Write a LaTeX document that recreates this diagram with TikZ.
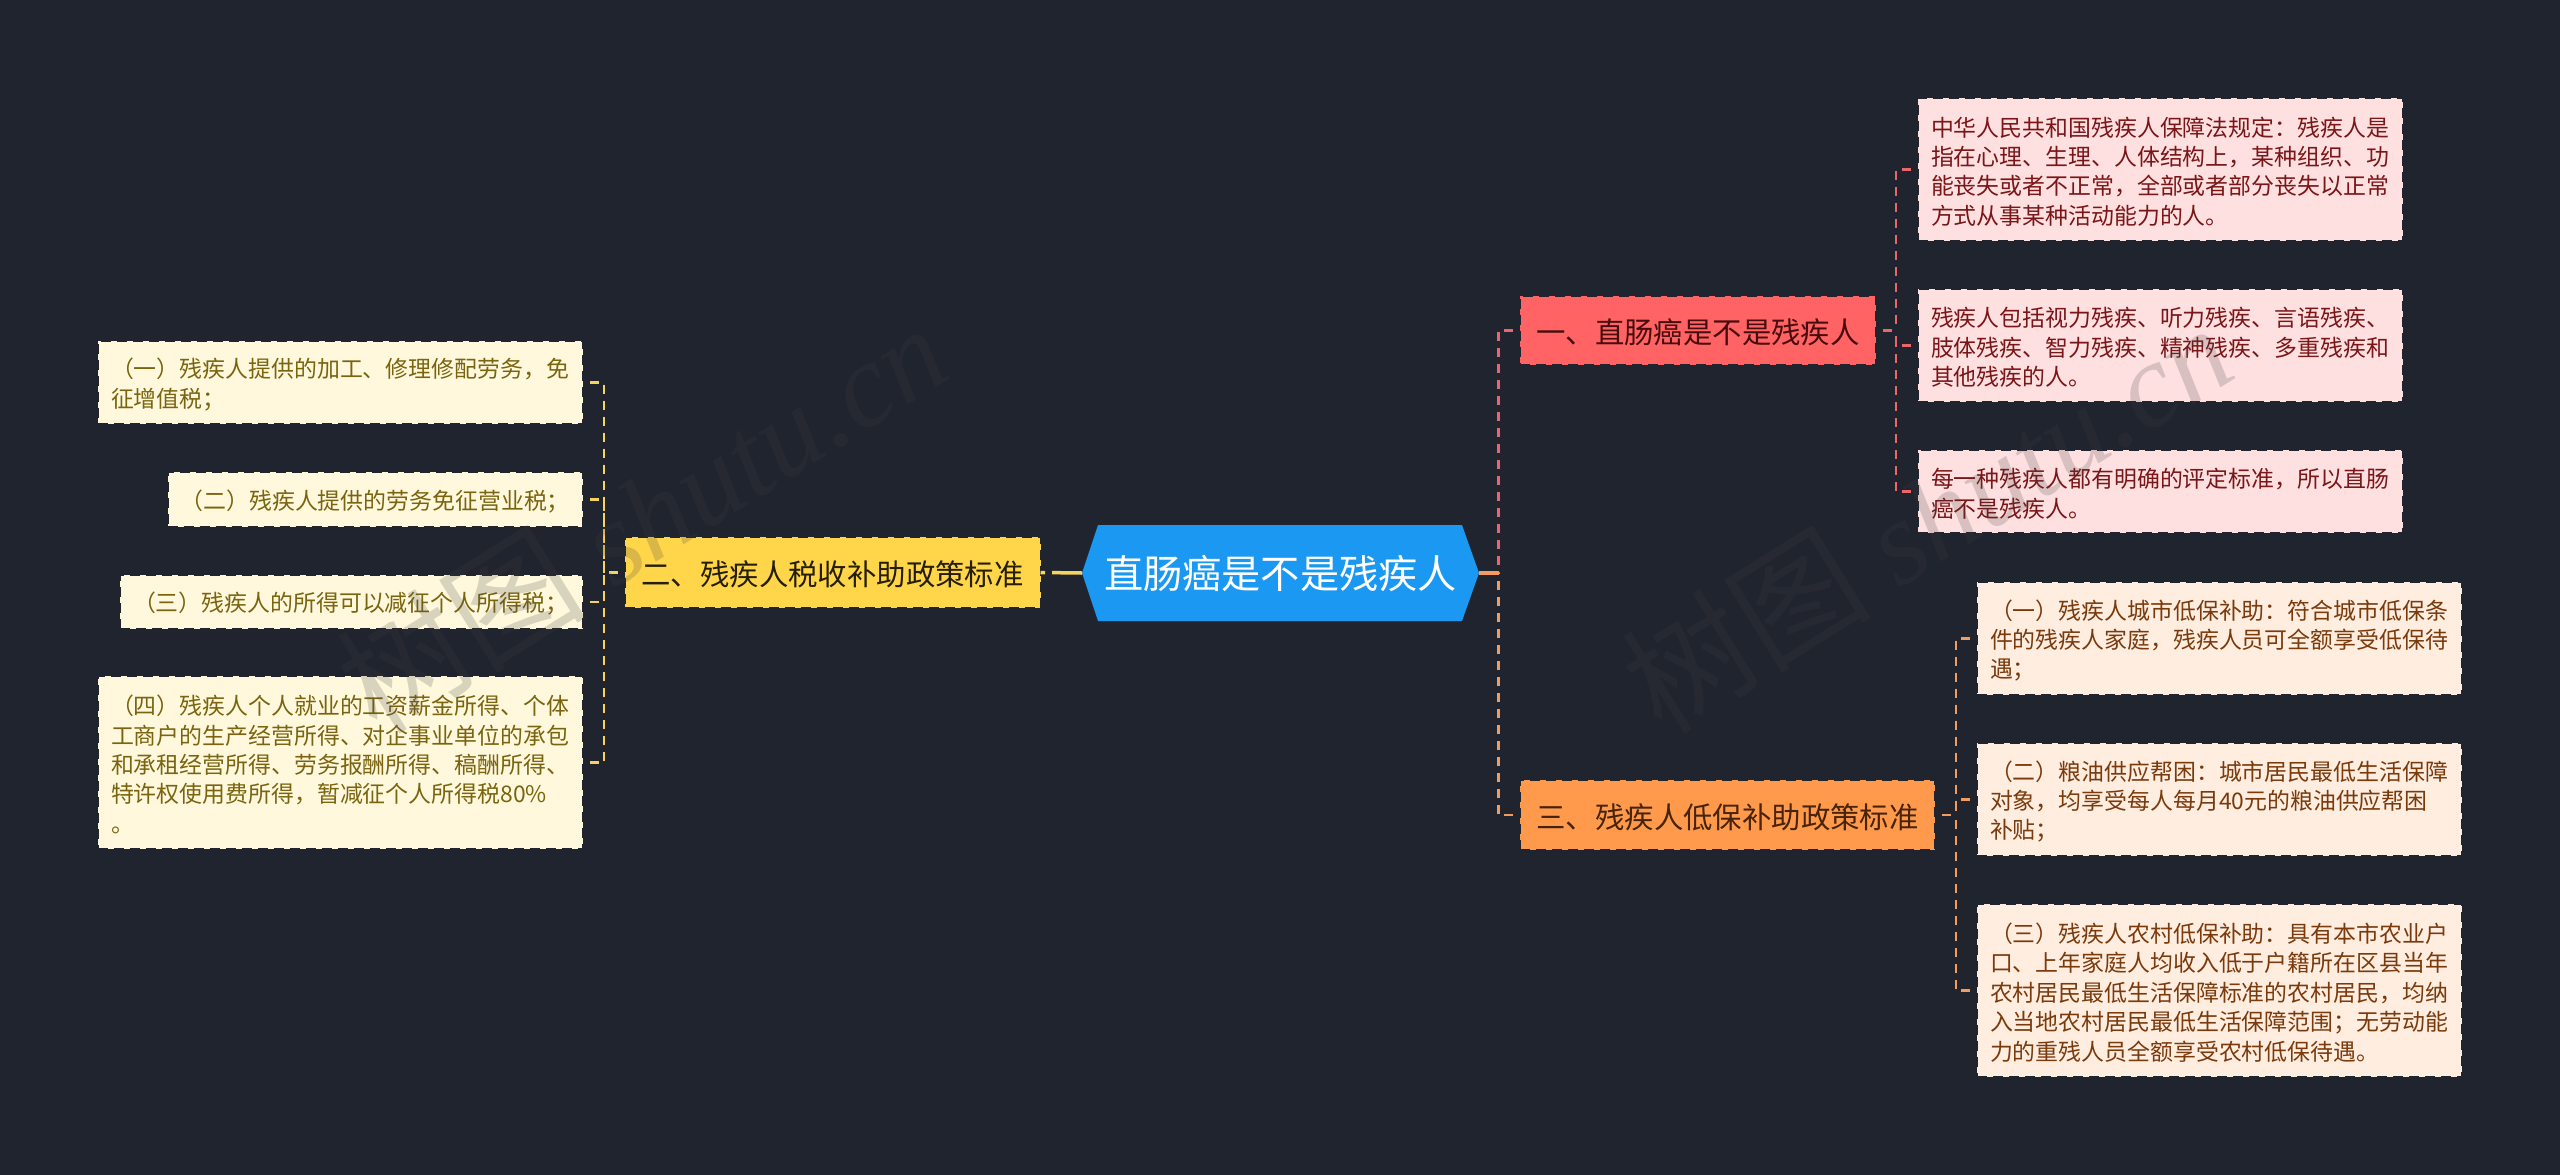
\documentclass[tikz,border=0pt]{standalone}
\usepackage{fontspec}
\usepackage{xcolor}
\setmainfont{Noto Sans CJK SC}
\newfontfamily\markfont{Liberation Serif}

\definecolor{bgdark}{HTML}{20242F}
\definecolor{rootblue}{HTML}{1B98F2}
\definecolor{redmain}{HTML}{FF6363}
\definecolor{redleaf}{HTML}{FFE0E0}
\definecolor{redline}{HTML}{EB666A}
\definecolor{redtext}{HTML}{7A1518}
\definecolor{orgmain}{HTML}{FF9A4D}
\definecolor{orgleaf}{HTML}{FFEDE0}
\definecolor{orgline}{HTML}{F59C5C}
\definecolor{orgtext}{HTML}{7A3A0C}
\definecolor{yelmain}{HTML}{FFD54A}
\definecolor{yelleaf}{HTML}{FFF8DC}
\definecolor{yelline}{HTML}{F5D35E}
\definecolor{yeltext}{HTML}{7A640F}

\tikzset{
	edged/.style={draw=bgdark,line width=2pt,dash pattern=on 10pt off 6pt,outer sep=0pt},
	mainbox/.style={edged,inner xsep=0pt,inner ysep=0pt,font=\fontsize{29.4}{36}\selectfont,execute at begin node={\rule{0pt}{28.5pt}}},
	leafbox/.style={edged,inner xsep=13pt,inner ysep=0pt,align=left,font=\fontsize{22.9}{29.4}\selectfont,execute at begin node={\rule{0pt}{23.5pt}}},
	rootbox/.style={text=white,inner sep=0pt,outer sep=0pt,minimum width=397pt,minimum height=96pt,font=\fontsize{39.2}{46}\selectfont},
	redmainbox/.style={mainbox,fill=redmain,text=black!40!redtext,minimum width=356pt,minimum height=69pt},
	orgmainbox/.style={mainbox,fill=orgmain,text=black!40!orgtext,minimum width=415pt,minimum height=70pt},
	yelmainbox/.style={mainbox,fill=yelmain,text=black!70!yeltext,minimum width=416pt,minimum height=71pt},
	redleafbox/.style={leafbox,fill=redleaf,text=redtext,text width=459pt},
	orgleafbox/.style={leafbox,fill=orgleaf,text=orgtext,text width=459pt},
	yelleafbox/.style={leafbox,fill=yelleaf,text=yeltext},
	link/.style={line width=2.2pt,dash pattern=on 9pt off 7pt,dash phase=9pt},
	rootlink/.style={line width=3.5pt},
	markbox/.style={rotate=32,text=black!75,text opacity=0.2,font=\fontsize{125}{130}\selectfont}
}

\begin{document}
\begin{tikzpicture}[x=1pt,y=-1pt]
	\fill[bgdark] (0,0) rectangle (2560,1175);

	% centre
	\fill[rootblue] (1082,573) -- (1098,525) -- (1462,525) -- (1479,573) -- (1462,621) -- (1098,621) -- cycle;
	\node[rootbox] (root) at (1280.5,573) {直肠癌是不是残疾人};

	% main topics
	\node[redmainbox] (redtopic) at (1698,330.5) {一、直肠癌是不是残疾人};
	\node[orgmainbox] (orgtopic) at (1727.5,815) {三、残疾人低保补助政策标准};
	\node[yelmainbox] (yeltopic) at (832.5,572.5) {二、残疾人税收补助政策标准};

	% right top
	\node[redleafbox,minimum height=143pt] (redone) at (2160.5,169.5) {中华人民共和国残疾人保障法规定：残疾人是\\指在心理、生理、人体结构上，某种组织、功\\能丧失或者不正常，全部或者部分丧失以正常\\方式从事某种活动能力的人。};
	\node[redleafbox,minimum height=113pt] (redtwo) at (2160.5,345.5) {残疾人包括视力残疾、听力残疾、言语残疾、\\肢体残疾、智力残疾、精神残疾、多重残疾和\\其他残疾的人。};
	\node[redleafbox,minimum height=83pt] (redthree) at (2160.5,491.5) {每一种残疾人都有明确的评定标准，所以直肠\\癌不是残疾人。};

	% right bottom
	\node[orgleafbox,minimum height=113pt] (orgone) at (2219.5,638.5) {（一）残疾人城市低保补助：符合城市低保条\\件的残疾人家庭，残疾人员可全额享受低保待\\遇；};
	\node[orgleafbox,minimum height=113pt] (orgtwo) at (2219.5,799.5) {（二）粮油供应帮困：城市居民最低生活保障\\对象，均享受每人每月40元的粮油供应帮困\\补贴；};
	\node[orgleafbox,minimum height=173pt] (orgthree) at (2219.5,990.5) {（三）残疾人农村低保补助：具有本市农业户\\口、上年家庭人均收入低于户籍所在区县当年\\农村居民最低生活保障标准的农村居民，均纳\\入当地农村居民最低生活保障范围；无劳动能\\力的重残人员全额享受农村低保待遇。};

	% left
	\node[yelleafbox,text width=459pt,minimum height=83pt] (yelone) at (340.5,382.5) {（一）残疾人提供的加工、修理修配劳务，免\\征增值税；};
	\node[yelleafbox,text width=389.5pt,minimum height=55pt] (yeltwo) at (375.25,499.5) {（二）残疾人提供的劳务免征营业税；};
	\node[yelleafbox,text width=437pt,minimum height=54pt] (yelthree) at (351.5,602) {（三）残疾人的所得可以减征个人所得税；};
	\node[yelleafbox,text width=459pt,minimum height=173pt] (yelfour) at (340.5,762.5) {（四）残疾人个人就业的工资薪金所得、个体\\工商户的生产经营所得、对企事业单位的承包\\和承租经营所得、劳务报酬所得、稿酬所得、\\特许权使用费所得，暂减征个人所得税80\%\\。};

	% branch points
	\coordinate (rootjoint) at (1498.5,573);
	\coordinate (redjoint) at (1896,330.5);
	\coordinate (orgjoint) at (1956,815);
	\coordinate (yeljoint) at (604,572.5);

	% links
	\draw[rootlink,yelline,dash pattern=on 30pt off 7pt] (root.west) -- (yeltopic.east);
	\draw[link,redline] (redtopic.west) -| (rootjoint);
	\draw[link,orgline] (orgtopic.west) -| (rootjoint);
	\draw[rootlink,orgline] (root.east) -- (rootjoint);

	\draw[link,redline] (redtopic.east) -- (redjoint);
	\draw[link,redline] (redone.west) -| (redjoint);
	\draw[link,redline] (redtwo.west) -| (redjoint);
	\draw[link,redline] (redthree.west) -| (redjoint);

	\draw[link,orgline] (orgtopic.east) -- (orgjoint);
	\draw[link,orgline] (orgone.west) -| (orgjoint);
	\draw[link,orgline] (orgtwo.west) -| (orgjoint);
	\draw[link,orgline] (orgthree.west) -| (orgjoint);

	\draw[link,yelline] (yeltopic.west) -- (yeljoint);
	\draw[link,yelline] (yelone.east) -| (yeljoint);
	\draw[link,yelline] (yeltwo.east) -| (yeljoint);
	\draw[link,yelline] (yelthree.east) -| (yeljoint);
	\draw[link,yelline] (yelfour.east) -| (yeljoint);

	% watermarks
	\node[markbox] (markleft) at (641,516) {树图 {\fontsize{120}{130}\selectfont\markfont\itshape shutu.cn}};
	\node[markbox] (markright) at (1926,516) {树图 {\fontsize{120}{130}\selectfont\markfont\itshape shutu.cn}};
\end{tikzpicture}
\end{document}
